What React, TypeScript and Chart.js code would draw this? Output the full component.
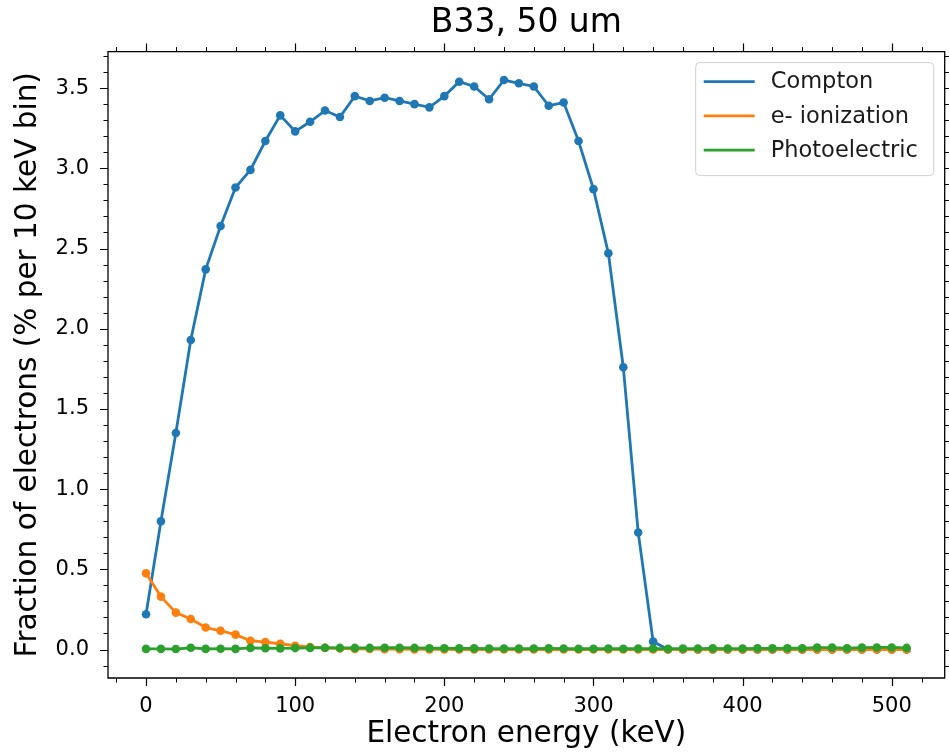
import React, { useEffect, useRef } from "react";
import { Chart, registerables } from "chart.js";

Chart.register(...registerables);

const energies = [
  0, 10, 20, 30, 40, 50, 60, 70, 80, 90,
  100, 110, 120, 130, 140, 150, 160, 170, 180, 190,
  200, 210, 220, 230, 240, 250, 260, 270, 280, 290,
  300, 310, 320, 330, 340, 350, 360, 370, 380, 390,
  400, 410, 420, 430, 440, 450, 460, 470, 480, 490,
  500, 510,
];

const compton = [
  0.22, 0.8, 1.35, 1.93, 2.37, 2.64, 2.88, 2.99, 3.17, 3.33,
  3.23, 3.29, 3.36, 3.32, 3.45, 3.42, 3.44, 3.42, 3.4, 3.38,
  3.45, 3.54, 3.51, 3.43, 3.55, 3.53, 3.51, 3.39, 3.41, 3.17,
  2.87, 2.47, 1.76, 0.73, 0.05, 0, 0, 0, 0, 0,
  0, 0, 0, 0, 0, 0, 0, 0, 0, 0,
  0, 0,
];

const eIonization = [
  0.475, 0.33, 0.23, 0.19, 0.137, 0.117, 0.093, 0.055, 0.046, 0.036,
  0.024, 0.016, 0.01, 0.006, 0.004, 0.003, 0.002, 0.002, 0.001, 0.001,
  0.001, 0, 0, 0, 0, 0, 0, 0, 0, 0,
  0, 0, 0, 0, 0, 0, 0, 0, 0, 0,
  0, 0, 0, 0, 0, 0, 0, 0, 0, 0,
  0, 0,
];

const photoelectric = [
  0.004, 0.004, 0.003, 0.011, 0.004, 0.005, 0.004, 0.01, 0.008, 0.007,
  0.009, 0.01, 0.011, 0.01, 0.01, 0.01, 0.011, 0.011, 0.01, 0.008,
  0.008, 0.007, 0.007, 0.006, 0.006, 0.006, 0.006, 0.007, 0.006, 0.005,
  0.005, 0.006, 0.005, 0.006, 0.006, 0.005, 0.006, 0.006, 0.007, 0.006,
  0.006, 0.007, 0.007, 0.008, 0.008, 0.012, 0.012, 0.008, 0.012, 0.013,
  0.013, 0.01,
];

const seriesLabels = ["Compton", "e- ionization", "Photoelectric"];
const seriesColors = ["#1f77b4", "#ff7f0e", "#2ca02c"];

const xMajorTicks = [0, 100, 200, 300, 400, 500];
const xMinorTicks = [
  -20, 20, 40, 60, 80, 120, 140, 160, 180, 220, 240, 260, 280,
  320, 340, 360, 380, 420, 440, 460, 480, 520,
];
const yMajorTicks = [0, 0.5, 1.0, 1.5, 2.0, 2.5, 3.0, 3.5];
const yMinorTicks = [
  -0.1, 0.1, 0.2, 0.3, 0.4, 0.6, 0.7, 0.8, 0.9, 1.1, 1.2, 1.3, 1.4,
  1.6, 1.7, 1.8, 1.9, 2.1, 2.2, 2.3, 2.4, 2.6, 2.7, 2.8, 2.9,
  3.1, 3.2, 3.3, 3.4, 3.6, 3.7,
];

const titleText = "B33, 50 um";
const xTitle = "Electron energy (keV)";
const yTitle = "Fraction of electrons (% per 10 keV bin)";

const FONT = "'DejaVu Sans', 'Liberation Sans', sans-serif";

const framePlugin = {
  id: "mplFrame",
  afterDatasetsDraw(chart: any) {
    const { ctx, chartArea: a, scales } = chart;
    const xs = scales.x;
    const ys = scales.y;
    ctx.save();
    ctx.strokeStyle = "#000";
    ctx.lineWidth = 1.3;
    ctx.beginPath();
    ctx.rect(a.left, a.top, a.right - a.left, a.bottom - a.top);
    ctx.stroke();
    const drawX = (vals: number[], len: number) => {
      vals.forEach((v) => {
        const p = Math.round(xs.getPixelForValue(v)) + 0.5;
        if (p < a.left - 0.5 || p > a.right + 0.5) return;
        ctx.beginPath();
        ctx.moveTo(p, a.bottom);
        ctx.lineTo(p, a.bottom + len);
        ctx.moveTo(p, a.top);
        ctx.lineTo(p, a.top - len);
        ctx.stroke();
      });
    };
    const drawY = (vals: number[], len: number) => {
      vals.forEach((v) => {
        const p = Math.round(ys.getPixelForValue(v)) + 0.5;
        if (p < a.top - 0.5 || p > a.bottom + 0.5) return;
        ctx.beginPath();
        ctx.moveTo(a.left, p);
        ctx.lineTo(a.left - len, p);
        ctx.moveTo(a.right, p);
        ctx.lineTo(a.right + len, p);
        ctx.stroke();
      });
    };
    ctx.lineWidth = 1.2;
    drawX(xMajorTicks, 8);
    drawY(yMajorTicks, 8);
    ctx.lineWidth = 1;
    drawX(xMinorTicks, 4.5);
    drawY(yMinorTicks, 4.5);
    ctx.restore();
  },
};

const legendPlugin = {
  id: "mplLegend",
  afterDraw(chart: any) {
    const { ctx, chartArea: a } = chart;
    const w = 238;
    const h = 113;
    const right = a.right - 11;
    const left = right - w;
    const top = a.top + 11;
    const r = 4;
    ctx.save();
    ctx.beginPath();
    ctx.moveTo(left + r, top);
    ctx.lineTo(left + w - r, top);
    ctx.quadraticCurveTo(left + w, top, left + w, top + r);
    ctx.lineTo(left + w, top + h - r);
    ctx.quadraticCurveTo(left + w, top + h, left + w - r, top + h);
    ctx.lineTo(left + r, top + h);
    ctx.quadraticCurveTo(left, top + h, left, top + h - r);
    ctx.lineTo(left, top + r);
    ctx.quadraticCurveTo(left, top, left + r, top);
    ctx.closePath();
    ctx.fillStyle = "rgba(255,255,255,0.85)";
    ctx.fill();
    ctx.strokeStyle = "#d0d0d0";
    ctx.lineWidth = 1;
    ctx.stroke();
    chart.data.datasets.forEach((ds: any, i: number) => {
      const y = top + 19 + i * 34.3;
      ctx.strokeStyle = ds.borderColor;
      ctx.lineWidth = 2.8;
      ctx.beginPath();
      ctx.moveTo(left + 8, y);
      ctx.lineTo(left + 59, y);
      ctx.stroke();
      ctx.fillStyle = "#1a1a1a";
      ctx.font = `22.5px ${FONT}`;
      ctx.textBaseline = "middle";
      ctx.textAlign = "left";
      ctx.fillText(ds.label, left + 75, y + 1);
    });
    ctx.restore();
  },
};

export default function App() {
  const canvasRef = useRef<HTMLCanvasElement | null>(null);

  useEffect(() => {
    const canvas = canvasRef.current;
    if (!canvas) return;
    const seriesValues = [compton, eIonization, photoelectric];
    const datasets = seriesValues.map((vals, i) => ({
      label: seriesLabels[i],
      data: energies.map((e, j) => ({ x: e, y: vals[j] })),
      borderColor: seriesColors[i],
      backgroundColor: seriesColors[i],
      pointBackgroundColor: seriesColors[i],
      pointBorderColor: seriesColors[i],
      pointRadius: 4.3,
      pointBorderWidth: 0,
      borderWidth: 2.8,
      tension: 0,
      fill: false,
      order: 2 - i,
    }));

    const chart = new Chart(canvas, {
      type: "line",
      data: { datasets },
      plugins: [framePlugin, legendPlugin],
      options: {
        animation: false,
        responsive: false,
        maintainAspectRatio: false,
        layout: { padding: { left: 0, right: 2, top: 0, bottom: 0 } },
        plugins: {
          legend: { display: false },
          tooltip: { enabled: false },
          title: {
            display: true,
            fullSize: false,
            text: titleText,
            color: "#000",
            font: { family: FONT, size: 33, weight: "normal", lineHeight: 1.2 },
            padding: { top: 4, bottom: 8 },
          },
        },
        scales: {
          x: {
            type: "linear",
            min: -25.5,
            max: 535.5,
            grid: { display: false },
            border: { display: false },
            afterFit: (scale: any) => {
              scale.height = 76;
            },
            afterBuildTicks: (scale: any) => {
              scale.ticks = xMajorTicks.map((v) => ({ value: v }));
            },
            ticks: {
              color: "#000",
              font: { family: FONT, size: 21 },
              padding: 8,
              maxRotation: 0,
              autoSkip: false,
              callback: (v: any) => String(v),
            },
            title: {
              display: true,
              text: xTitle,
              color: "#000",
              font: { family: FONT, size: 29.5, lineHeight: 1.2 },
              padding: { top: 0, bottom: 2 },
            },
          },
          y: {
            type: "linear",
            min: -0.1775,
            max: 3.7275,
            grid: { display: false },
            border: { display: false },
            afterFit: (scale: any) => {
              scale.width = 108;
            },
            afterBuildTicks: (scale: any) => {
              scale.ticks = yMajorTicks.map((v) => ({ value: v }));
            },
            ticks: {
              color: "#000",
              font: { family: FONT, size: 21 },
              padding: 11,
              autoSkip: false,
              callback: (v: any) => Number(v).toFixed(1),
            },
            title: {
              display: true,
              text: yTitle,
              color: "#000",
              font: { family: FONT, size: 29.5, lineHeight: 1.2 },
              padding: { top: 11, bottom: 0 },
            },
          },
        },
      },
    });
    return () => chart.destroy();
  }, []);

  return (
    <div style={{ position: "absolute", left: 0, top: 0, width: 949, height: 754, background: "#fff" }}>
      <canvas ref={canvasRef} width={949} height={754} style={{ width: 949, height: 754, display: "block" }} />
    </div>
  );
}
